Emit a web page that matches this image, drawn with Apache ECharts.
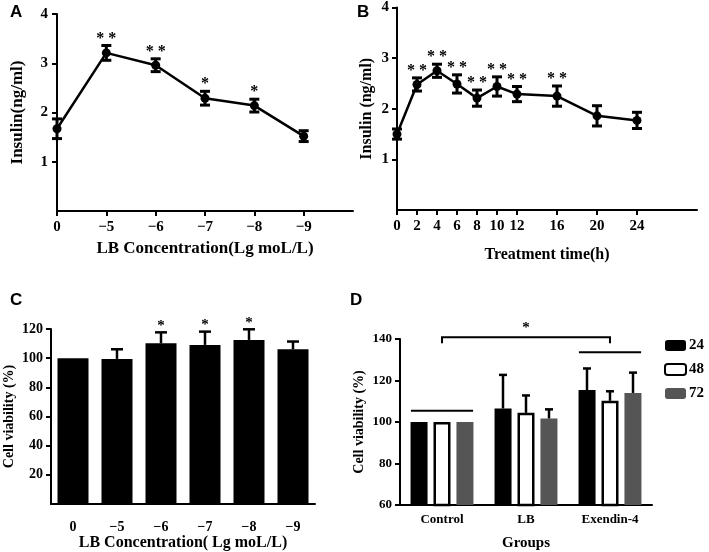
<!DOCTYPE html>
<html><head><meta charset="utf-8">
<script src="https://cdn.jsdelivr.net/npm/echarts@6/dist/echarts.min.js"></script>
<style>html,body{margin:0;padding:0;background:#fff}#c{width:709px;height:552px}</style>
</head><body><div id="c"></div>
<script>
// ---- Panel A ----
const aLabels = ['0','\u22125','\u22126','\u22127','\u22128','\u22129'];
const aMean = [1.67, 3.21, 2.96, 2.29, 2.14, 1.52];
const aErr  = [0.20, 0.15, 0.13, 0.14, 0.13, 0.11];
const aSig  = ['', '**', '**', '*', '*', ''];
// ---- Panel B ----
const bTime = [0, 2, 4, 6, 8, 10, 12, 16, 20, 24];
const bMean = [1.50, 2.48, 2.75, 2.49, 2.21, 2.44, 2.29, 2.25, 1.86, 1.77];
const bErr  = [0.10, 0.13, 0.13, 0.18, 0.16, 0.19, 0.15, 0.20, 0.20, 0.16];
const bSig  = ['', '**', '**', '**', '**', '**', '**', '**', '', ''];
// ---- Panel C ----
const cLabels = ['0','\u22125','\u22126','\u22127','\u22128','\u22129'];
const cMean = [100, 99.5, 110.2, 109.1, 112.5, 106.1];
const cErr  = [0, 6.6, 7.5, 9.1, 7.3, 5.3];
const cSig  = ['', '', '*', '*', '*', ''];
// ---- Panel D ----
const dGroups = ['Control', 'LB', 'Exendin-4'];
const dSeriesNames = ['24', '48', '72'];
const d24 = [100, 106.5, 115.4];  const d24Err = [0, 16.2, 10.4];
const d48 = [100, 104.4, 110.2];  const d48Err = [0, 8.4, 4.6];
const d72 = [100, 101.7, 114.0];  const d72Err = [0, 4.4, 9.8];
const dSigLevel = 140.8;     // bracket value
const dCtrlLine = 105.4;     // control group line
const dExLine = 133.6;       // exendin group line

const SERIF = '"Liberation Serif", "Times New Roman", serif';
const SANS = '"Liberation Sans", Arial, sans-serif';

function errRender(opts) {
  return function (params, api) {
    const x = api.value(0), m = api.value(1), e = api.value(2);
    if (!e) return;
    const dx = opts.offsetFrac ? api.size([1, 0])[0] * opts.offsetFrac : 0;
    const t = api.coord([x, m + e]);
    const b = api.coord([x, opts.oneSided ? m : m - e]);
    const cx = t[0] + dx;
    const st = { stroke: '#000', lineWidth: opts.lw };
    const ch = [
      { type: 'line', shape: { x1: cx, y1: t[1], x2: cx, y2: b[1] }, style: st },
      { type: 'line', shape: { x1: cx - opts.cap, y1: t[1], x2: cx + opts.cap, y2: t[1] }, style: st }
    ];
    if (!opts.oneSided) ch.push({ type: 'line', shape: { x1: cx - opts.cap, y1: b[1], x2: cx + opts.cap, y2: b[1] }, style: st });
    return { type: 'group', children: ch };
  };
}
function starRender(labels, size) {
  return function (params, api) {
    const s = labels[params.dataIndex];
    if (!s) return;
    const p = api.coord([api.value(0), api.value(1) + api.value(2)]);
    return { type: 'text', x: p[0], y: p[1] + 1,
      style: { text: s.split('').join(' '), align: 'center', verticalAlign: 'bottom',
        fontSize: size, fontWeight: 'bold', fontFamily: SERIF, fill: '#000' } };
  };
}
const axisLineS = { lineStyle: { color: '#000', width: 2 } };
const tickS = { lineStyle: { color: '#000', width: 2 }, length: 5 };

const aIdx = aMean.map((v, i) => i);
const option = {
  animation: false,
  backgroundColor: '#fff',
  graphic: [
    { type: 'text', left: 10, top: 4, style: { text: 'A', fontSize: 17, fontWeight: 'bold', fontFamily: SANS, fill: '#000' } },
    { type: 'text', left: 357, top: 4, style: { text: 'B', fontSize: 17, fontWeight: 'bold', fontFamily: SANS, fill: '#000' } },
    { type: 'text', left: 10, top: 292, style: { text: 'C', fontSize: 17, fontWeight: 'bold', fontFamily: SANS, fill: '#000' } },
    { type: 'text', left: 350, top: 292, style: { text: 'D', fontSize: 17, fontWeight: 'bold', fontFamily: SANS, fill: '#000' } }
  ],
  grid: [
    { left: 57, top: 14, width: 296, height: 197 },
    { left: 397, top: 5, width: 300, height: 205 },
    { left: 51, top: 329, width: 264, height: 176 },
    { left: 400, top: 339, width: 252, height: 169 }
  ],
  legend: {
    data: dSeriesNames, orient: 'vertical', left: 664, top: 338, padding: 0,
    itemWidth: 21, itemHeight: 11, itemGap: 9,
    textStyle: { fontFamily: SERIF, fontWeight: 'bold', fontSize: 15, color: '#000', padding: [0, 0, 0, -2] }
  },
  xAxis: [
    { gridIndex: 0, type: 'value', min: 0, max: 6, interval: 1,
      axisLine: axisLineS, axisTick: Object.assign({ customValues: aIdx }, tickS), splitLine: { show: false },
      axisLabel: { customValues: aIdx, formatter: v => aLabels[v] || '', color: '#000', fontFamily: SERIF, fontWeight: 'bold', fontSize: 15, margin: 9 },
      name: 'LB Concentration(Lg moL/L)', nameLocation: 'middle', nameGap: 29,
      nameTextStyle: { fontFamily: SERIF, fontWeight: 'bold', fontSize: 17, color: '#000' } },
    { gridIndex: 1, type: 'value', min: 0, max: 30, interval: 2,
      axisLine: axisLineS, axisTick: Object.assign({ customValues: bTime }, tickS), splitLine: { show: false },
      axisLabel: { customValues: bTime, color: '#000', fontFamily: SERIF, fontWeight: 'bold', fontSize: 15, margin: 9 },
      name: 'Treatment time(h)', nameLocation: 'middle', nameGap: 37,
      nameTextStyle: { fontFamily: SERIF, fontWeight: 'bold', fontSize: 16, color: '#000' } },
    { gridIndex: 2, type: 'category', data: cLabels,
      axisLine: axisLineS, axisTick: Object.assign({ alignWithLabel: true }, tickS),
      axisLabel: { color: '#000', fontFamily: SERIF, fontWeight: 'bold', fontSize: 14, margin: 16 },
      name: 'LB Concentration( Lg moL/L)', nameLocation: 'middle', nameGap: 31,
      nameTextStyle: { fontFamily: SERIF, fontWeight: 'bold', fontSize: 16, color: '#000' } },
    { gridIndex: 3, type: 'category', data: dGroups,
      axisLine: axisLineS, axisTick: Object.assign({ alignWithLabel: true }, tickS),
      axisLabel: { color: '#000', fontFamily: SERIF, fontWeight: 'bold', fontSize: 13, margin: 8 },
      name: 'Groups', nameLocation: 'middle', nameGap: 31,
      nameTextStyle: { fontFamily: SERIF, fontWeight: 'bold', fontSize: 15, color: '#000' } }
  ],
  yAxis: [
    { gridIndex: 0, type: 'value', min: 0, max: 4, interval: 1,
      axisLine: { show: true, lineStyle: { color: '#000', width: 2 } }, axisTick: Object.assign({ show: true }, tickS), splitLine: { show: false },
      axisLabel: { showMinLabel: false, color: '#000', fontFamily: SERIF, fontWeight: 'bold', fontSize: 15, margin: 9 },
      name: 'Insulin(ng/ml)', nameLocation: 'middle', nameGap: 31,
      nameTextStyle: { fontFamily: SERIF, fontWeight: 'bold', fontSize: 17, color: '#000' } },
    { gridIndex: 1, type: 'value', min: 0, max: 4, interval: 1,
      axisLine: { show: true, lineStyle: { color: '#000', width: 2 } }, axisTick: Object.assign({ show: true }, tickS), splitLine: { show: false },
      axisLabel: { showMinLabel: false, color: '#000', fontFamily: SERIF, fontWeight: 'bold', fontSize: 15, margin: 8 },
      name: 'Insulin (ng/ml)', nameLocation: 'middle', nameGap: 22,
      nameTextStyle: { fontFamily: SERIF, fontWeight: 'bold', fontSize: 16, color: '#000' } },
    { gridIndex: 2, type: 'value', min: 0, max: 120, interval: 20,
      axisLine: { show: true, lineStyle: { color: '#000', width: 2 } }, axisTick: Object.assign({ show: true }, tickS), splitLine: { show: false },
      axisLabel: { showMinLabel: false, color: '#000', fontFamily: SERIF, fontWeight: 'bold', fontSize: 14, margin: 8 },
      name: 'Cell viability (%)', nameLocation: 'middle', nameGap: 35,
      nameTextStyle: { fontFamily: SERIF, fontWeight: 'bold', fontSize: 14, color: '#000' } },
    { gridIndex: 3, type: 'value', min: 60, max: 140, interval: 20,
      axisLine: { show: true, lineStyle: { color: '#000', width: 2 } }, axisTick: Object.assign({ show: true }, tickS), splitLine: { show: false },
      axisLabel: { color: '#000', fontFamily: SERIF, fontWeight: 'bold', fontSize: 13, margin: 8 },
      name: 'Cell viability (%)', nameLocation: 'middle', nameGap: 34,
      nameTextStyle: { fontFamily: SERIF, fontWeight: 'bold', fontSize: 14, color: '#000' } }
  ],
  series: [
    // A
    { type: 'line', xAxisIndex: 0, yAxisIndex: 0, data: aMean.map((v, i) => [i, v]),
      symbol: 'circle', symbolSize: 9, itemStyle: { color: '#000' }, lineStyle: { color: '#000', width: 2.5 }, z: 3 },
    { type: 'custom', xAxisIndex: 0, yAxisIndex: 0, data: aMean.map((v, i) => [i, v, aErr[i]]),
      renderItem: errRender({ cap: 5, lw: 3, oneSided: false }), z: 4 },
    { type: 'custom', xAxisIndex: 0, yAxisIndex: 0, data: aMean.map((v, i) => [i, v, aErr[i]]),
      renderItem: starRender(aSig, 16), clip: false },
    // B
    { type: 'line', xAxisIndex: 1, yAxisIndex: 1, data: bMean.map((v, i) => [bTime[i], v]),
      symbol: 'circle', symbolSize: 9, itemStyle: { color: '#000' }, lineStyle: { color: '#000', width: 2.5 }, z: 3 },
    { type: 'custom', xAxisIndex: 1, yAxisIndex: 1, data: bMean.map((v, i) => [bTime[i], v, bErr[i]]),
      renderItem: errRender({ cap: 5, lw: 3, oneSided: false }), z: 4 },
    { type: 'custom', xAxisIndex: 1, yAxisIndex: 1, data: bMean.map((v, i) => [bTime[i], v, bErr[i]]),
      renderItem: starRender(bSig, 16), clip: false },
    // C
    { type: 'bar', xAxisIndex: 2, yAxisIndex: 2, data: cMean, barWidth: 31, itemStyle: { color: '#000' } },
    { type: 'custom', xAxisIndex: 2, yAxisIndex: 2, data: cMean.map((v, i) => [i, v, cErr[i]]),
      renderItem: errRender({ cap: 6, lw: 2.5, oneSided: true }), z: 4 },
    { type: 'custom', xAxisIndex: 2, yAxisIndex: 2, data: cMean.map((v, i) => [i, v, cErr[i]]),
      renderItem: starRender(cSig, 15), clip: false },
    // D
    { name: '24', type: 'bar', xAxisIndex: 3, yAxisIndex: 3, data: d24, barWidth: 17, barGap: '35%',
      itemStyle: { color: '#000' } },
    { name: '48', type: 'bar', xAxisIndex: 3, yAxisIndex: 3, data: d48, barWidth: 17, barGap: '35%',
      itemStyle: { color: '#fff', borderColor: '#000', borderWidth: 2.5 } },
    { name: '72', type: 'bar', xAxisIndex: 3, yAxisIndex: 3, data: d72, barWidth: 17, barGap: '35%',
      itemStyle: { color: '#555' } },
    { type: 'custom', xAxisIndex: 3, yAxisIndex: 3, data: d24.map((v, i) => [i, v, d24Err[i]]),
      renderItem: errRender({ cap: 4, lw: 2.5, oneSided: true, offsetFrac: -23 / 84 }), z: 4 },
    { type: 'custom', xAxisIndex: 3, yAxisIndex: 3, data: d48.map((v, i) => [i, v, d48Err[i]]),
      renderItem: errRender({ cap: 4, lw: 2.5, oneSided: true, offsetFrac: 0 }), z: 4 },
    { type: 'custom', xAxisIndex: 3, yAxisIndex: 3, data: d72.map((v, i) => [i, v, d72Err[i]]),
      renderItem: errRender({ cap: 4, lw: 2.5, oneSided: true, offsetFrac: 23 / 84 }), z: 4 },
    // D annotations: group lines and significance bracket
    { type: 'custom', xAxisIndex: 3, yAxisIndex: 3, clip: false, z: 5,
      data: [[0, dCtrlLine], [2, dExLine]],
      renderItem: function (params, api) {
        const p = api.coord([api.value(0), api.value(1)]);
        const hw = api.size([1, 0])[0] * 0.37;
        return { type: 'line', shape: { x1: p[0] - hw, y1: p[1], x2: p[0] + hw, y2: p[1] }, style: { stroke: '#000', lineWidth: 2 } };
      } },
    { type: 'custom', xAxisIndex: 3, yAxisIndex: 3, clip: false, z: 5,
      data: [[0, 2, dSigLevel]],
      renderItem: function (params, api) {
        const a = api.coord([api.value(0), api.value(2)]);
        const b = api.coord([api.value(1), api.value(2)]);
        return { type: 'group', children: [
          { type: 'polyline', shape: { points: [[a[0], a[1] + 6], [a[0], a[1]], [b[0], b[1]], [b[0], b[1] + 6]] },
            style: { stroke: '#000', lineWidth: 2, fill: null } },
          { type: 'text', x: (a[0] + b[0]) / 2, y: a[1] - 2,
            style: { text: '*', align: 'center', verticalAlign: 'bottom', fontSize: 15, fontWeight: 'bold', fontFamily: SERIF, fill: '#000' } }
        ] };
      } }
  ]
};
const chart = echarts.init(document.getElementById('c'), null, { renderer: 'canvas' });
chart.setOption(option);
</script>
</body></html>
